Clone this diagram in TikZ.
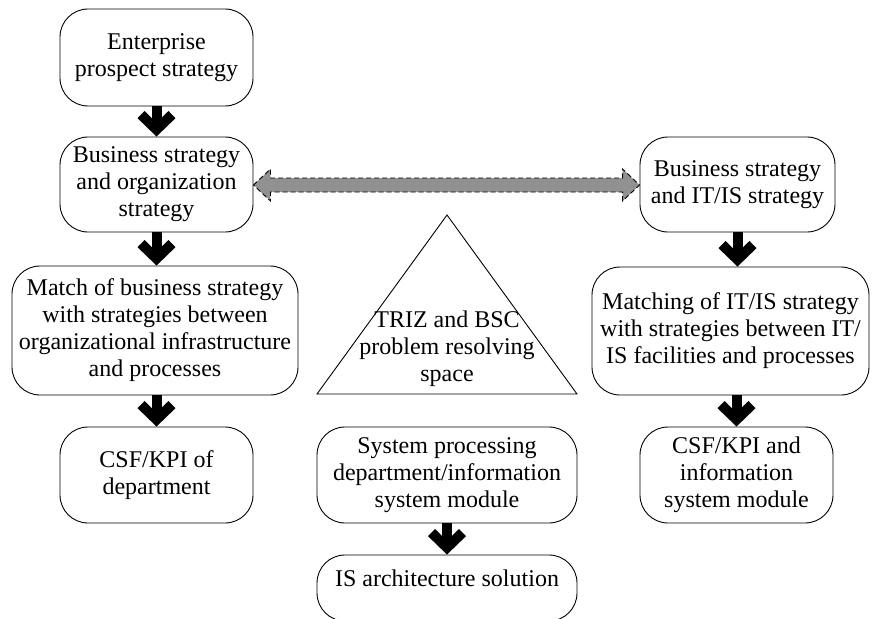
\documentclass[tikz,border=0pt]{standalone}
\usepackage{fontspec}
\setmainfont{Liberation Serif}
\usetikzlibrary{arrows.meta,calc}
\definecolor{linkgray}{RGB}{145,145,145}
\tikzset{
  box/.style={draw, line width=0.9pt, rounded corners=28pt, align=center,
    inner sep=0pt, font=\fontsize{24}{27}\selectfont},
  plain/.style={align=center, inner sep=0pt, font=\fontsize{24}{27}\selectfont},
  flow/.style={line width=10pt, -{Straight Barb[length=15pt,width=31pt]}},
  link/.style={draw=black, fill=linkgray, line width=0.9pt, dash pattern=on 5pt off 3pt},
}
\begin{document}
\begin{tikzpicture}[x=1pt,y=-1pt]
\useasboundingbox (0,0) rectangle (872,618);
\clip (0,0) rectangle (872,618);

% left column
\node[box, minimum width=193pt, minimum height=97pt] (ent) at (156.5,57.5)
  {Enterprise\\prospect strategy};
\node[box, minimum width=193pt, minimum height=95pt] (bus) at (156.5,184.5)
  {Business strategy\\and organization\\strategy};
\node[box, minimum width=286pt, minimum height=129pt] (match) at (155,330.5)
  {Match of business strategy\\with strategies between\\organizational infrastructure\\and processes};
\node[box, minimum width=193pt, minimum height=96pt] (csfa) at (156.5,475)
  {CSF/KPI of\\department};

% right column
\node[box, minimum width=195pt, minimum height=95pt] (bit) at (737.5,184.5)
  {Business strategy\\and IT/IS strategy};
\node[box, minimum width=277pt, minimum height=128pt] (mit) at (730.5,331)
  {Matching of IT/IS strategy\\with strategies between IT/\\IS facilities and processes};
\node[box, minimum width=193pt, minimum height=96pt] (csfb) at (736.5,475)
  {CSF/KPI and\\information\\system module};

% middle column
\coordinate (apex) at (447,215);
\coordinate (baseR) at (577,394);
\coordinate (baseL) at (317,394);
\draw[line width=0.9pt] (apex) -- (baseR) -- (baseL) -- cycle;
\node[plain] (triz) at (447,349) {TRIZ and BSC\\problem resolving\\space};

\node[box, minimum width=260pt, minimum height=96pt] (sys) at (447,475)
  {System processing\\department/information\\system module};
\node[box, minimum width=260pt, minimum height=66pt] (isarch) at (447,588) {};
\node[plain] (isarchtext) at (447,578) {IS architecture solution};

% flow arrows
\draw[flow] (ent.south) -- (bus.north);
\draw[flow] (bus.south) -- (bus.south |- match.north);
\draw[flow] (match.south -| csfa.north) -- (csfa.north);
\draw[flow] (bit.south) -- (bit.south |- mit.north);
\draw[flow] (mit.south -| csfb.north) -- (csfb.north);
\draw[flow] (sys.south) -- (isarch.north);

% two-way link between the strategy boxes
\coordinate (l) at ($(bus.east)+(0,0.5)$);
\coordinate (r) at ($(bit.west)+(0,0.5)$);
\draw[link] (l) -- ++(17,-16) -- ++(0,9) -- ($(r)+(-17,-7)$) -- ++(0,-9) -- (r)
  -- ++(-17,16) -- ++(0,-9) -- ($(l)+(17,7)$) -- ++(0,9) -- cycle;
\end{tikzpicture}
\end{document}
